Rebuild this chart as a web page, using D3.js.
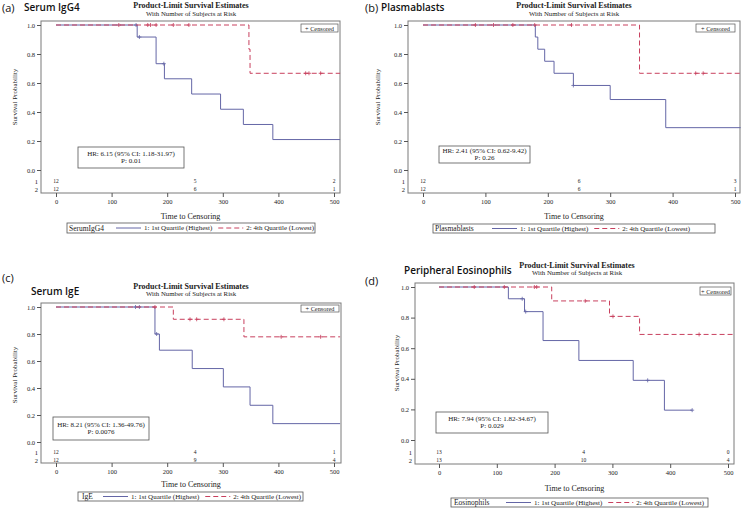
<!DOCTYPE html>
<html>
<head>
<meta charset="utf-8">
<script src="https://cdn.jsdelivr.net/npm/d3@7"></script>
<style>
  body { margin: 0; background: #fff; }
  svg { display: block; }
  .serif { font-family: "Liberation Serif", "Times New Roman", serif; fill: #222; }
  .tag { font-family: "Open Sans", "Noto Sans", sans-serif; font-weight: 600; fill: #111; }
</style>
</head>
<body>
<div class="km-plots"></div>
<script>
// shared axis values
const timeTicks = [0, 100, 200, 300, 400, 500];
const probTicks = [0, 0.2, 0.4, 0.6, 0.8, 1.0];
const riskTimes = [0, 250, 500];
const groupLabels = ['1: 1st Quartile (Highest)', '2: 4th Quartile (Lowest)'];

// (a) Serum IgG4  -- steps are [time, survival]
const iggQ1Steps = [[0, 1], [146, 0.917], [180, 0.733], [195, 0.629], [244, 0.524], [296, 0.419], [337, 0.314], [390, 0.21]];
const iggQ1Censor = [144, 150, 194];
const iggQ4Steps = [[0, 1], [347, 0.833], [349, 0.667]];
const iggQ4Censor = [113, 165, 170, 180, 211, 239, 449, 455, 476];
const iggEnd = [511, 511];
const iggRisk = [[12, 5, 2], [12, 6, 1]];

// (b) Plasmablasts
const plasQ1Steps = [[0, 1], [180, 0.917], [184, 0.833], [195, 0.75], [210, 0.667], [241, 0.583], [300, 0.486], [389, 0.292]];
const plasQ1Censor = [241];
const plasQ4Steps = [[0, 1], [347, 0.667]];
const plasQ4Censor = [84, 113, 144, 179, 238, 437, 449];
const plasEnd = [509, 509];
const plasRisk = [[12, 6, 3], [12, 6, 1]];

// (c) Serum IgE
const igeQ1Steps = [[0, 1], [178, 0.8], [186, 0.68], [245, 0.544], [301, 0.408], [349, 0.272], [390, 0.136]];
const igeQ1Censor = [143, 150, 181];
const igeQ4Steps = [[0, 1], [211, 0.909], [338, 0.779]];
const igeQ4Censor = [178, 241, 253, 302, 405, 476];
const igeEnd = [511, 511];
const igeRisk = [[12, 4, 1], [12, 9, 4]];

// (d) Peripheral Eosinophils
const eosQ1Steps = [[0, 1], [120, 0.923], [148, 0.839], [180, 0.65], [242, 0.52], [336, 0.39], [390, 0.195]];
const eosQ1Censor = [144, 150, 361, 438];
const eosQ4Steps = [[0, 1], [195, 0.909], [295, 0.808], [347, 0.69]];
const eosQ4Censor = [61, 113, 165, 169, 253, 301, 450];
const eosEnd = [438, 510];
const eosRisk = [[13, 4, 0], [13, 10, 4]];

const blue = '#6466a6';
const red = '#c8405e';
const frameColor = '#7a7a7a';

const panels = [
	{tag: '(a)', name: 'Serum IgG4', legendTitle: 'SerumIgG4',
	 hr: 'HR: 6.15 (95% CI: 1.18-31.97)', p: 'P: 0.01',
	 q1: iggQ1Steps, c1: iggQ1Censor, q4: iggQ4Steps, c4: iggQ4Censor, end: iggEnd, risk: iggRisk,
	 left: 41, right: 340, top: 21, bottom: 193, x0: 56, x500: 334, y0: 170, y1: 25,
	 riskY: [181, 189], axisTitleY: 216, titleX: 191, titleY: 8, subY: 16,
	 leg: [67, 315, 223, 233, 69, 116], hrBox: [78, 184, 147, 168], cens: [301, 338, 24, 32],
	 ylab: [15, 97], tagPos: [2, 7], namePos: [24, 7]},
	{tag: '(b)', name: 'Plasmablasts', legendTitle: 'Plasmablasts',
	 hr: 'HR: 2.41 (95% CI: 0.62-9.42)', p: 'P: 0.26',
	 q1: plasQ1Steps, c1: plasQ1Censor, q4: plasQ4Steps, c4: plasQ4Censor, end: plasEnd, risk: plasRisk,
	 left: 408, right: 740, top: 21, bottom: 193, x0: 423, x500: 735, y0: 170, y1: 25,
	 riskY: [181, 189], axisTitleY: 216, titleX: 574, titleY: 8, subY: 16,
	 leg: [433, 715, 224, 233, 435, 492], hrBox: [439, 530, 146, 163], cens: [696, 735, 24, 32],
	 ylab: [378, 97], tagPos: [365, 7], namePos: [381, 7]},
	{tag: '(c)', name: 'Serum IgE', legendTitle: 'IgE',
	 hr: 'HR: 8.21 (95% CI: 1.36-49.76)', p: 'P: 0.0076',
	 q1: igeQ1Steps, c1: igeQ1Censor, q4: igeQ4Steps, c4: igeQ4Censor, end: igeEnd, risk: igeRisk,
	 left: 41, right: 341, top: 303, bottom: 463, x0: 56, x500: 334, y0: 442, y1: 307,
	 riskY: [452, 460], axisTitleY: 484, titleX: 191, titleY: 289, subY: 296,
	 leg: [78, 303, 492, 501, 82, 103], hrBox: [53, 149, 417, 440], cens: [301, 339, 305, 312],
	 ylab: [15, 375], tagPos: [2, 277], namePos: [31, 291]},
	{tag: '(d)', name: 'Peripheral Eosinophils', legendTitle: 'Eosinophils',
	 hr: 'HR: 7.94 (95% CI: 1.82-34.67)', p: 'P: 0.029',
	 q1: eosQ1Steps, c1: eosQ1Censor, q4: eosQ4Steps, c4: eosQ4Censor, end: eosEnd, risk: eosRisk,
	 left: 415, right: 734, top: 283, bottom: 464, x0: 439, x500: 728, y0: 440, y1: 287,
	 riskY: [452, 460], axisTitleY: 488, titleX: 577, titleY: 268, subY: 275,
	 leg: [451, 708, 498, 507, 454, 506], hrBox: [436, 548, 412, 433], cens: [700, 731, 287, 295],
	 ylab: [397, 363], tagPos: [365, 280], namePos: [404, 270]}
];

const svg = d3.select('.km-plots')
	.append('svg')
	.attr('width', 743)
	.attr('height', 510);

panels.forEach(p => drawPanel(p));

function survivalAt(steps, t) {
	let s = steps[0][1];
	steps.forEach(d => { if (d[0] <= t) s = d[1]; });
	return s;
}

function drawPanel(p) {
	const g = svg.append('g');
	const x = d3.scaleLinear().domain([0, 500]).range([p.x0, p.x500]);
	const y = d3.scaleLinear().domain([0, 1]).range([p.y0, p.y1]);

	// panel tag and name
	g.append('text').attr('class', 'tag').attr('x', p.tagPos[0]).attr('y', p.tagPos[1])
		.attr('dominant-baseline', 'central').attr('font-size', '11px').style('font-weight', 400).text(p.tag);
	g.append('text').attr('class', 'tag').attr('x', p.namePos[0]).attr('y', p.namePos[1])
		.attr('dominant-baseline', 'central').attr('font-size', '10px').text(p.name);

	// titles
	g.append('text').attr('class', 'serif').attr('x', p.titleX).attr('y', p.titleY)
		.attr('text-anchor', 'middle').attr('font-size', '8px').attr('font-weight', 'bold')
		.text('Product-Limit Survival Estimates');
	g.append('text').attr('class', 'serif').attr('x', p.titleX).attr('y', p.subY)
		.attr('text-anchor', 'middle').attr('font-size', '6.8px')
		.text('With Number of Subjects at Risk');

	// frame
	g.append('rect')
		.attr('x', p.left).attr('y', p.top)
		.attr('width', p.right - p.left).attr('height', p.bottom - p.top)
		.attr('fill', 'none').attr('stroke', frameColor).attr('stroke-width', 1);

	// axes
	const yAxis = g.append('g')
		.attr('transform', 'translate(' + p.left + ',0)')
		.call(d3.axisLeft(y).tickValues(probTicks).tickFormat(d3.format('.1f')).tickSize(4).tickPadding(2));
	const xAxis = g.append('g')
		.attr('transform', 'translate(0,' + p.bottom + ')')
		.call(d3.axisBottom(x).tickValues(timeTicks).tickFormat(d3.format('d')).tickSize(4).tickPadding(2));
	[yAxis, xAxis].forEach(a => {
		a.select('.domain').remove();
		a.selectAll('line').attr('stroke', '#555');
		a.selectAll('text').attr('class', 'serif').attr('font-size', '6.5px');
	});

	g.append('text').attr('class', 'serif')
		.attr('x', (p.left + p.right) / 2).attr('y', p.axisTitleY)
		.attr('text-anchor', 'middle').attr('dominant-baseline', 'central').attr('font-size', '8px')
		.text('Time to Censoring');
	g.append('text').attr('class', 'serif')
		.attr('transform', 'translate(' + p.ylab[0] + ',' + p.ylab[1] + ') rotate(-90)')
		.attr('text-anchor', 'middle').attr('dominant-baseline', 'central').attr('font-size', '7px')
		.text('Survival Probability');

	// number at risk
	p.risk.forEach((row, i) => {
		g.append('text').attr('class', 'serif')
			.attr('x', p.left - 3).attr('y', p.riskY[i])
			.attr('text-anchor', 'end').attr('dominant-baseline', 'central').attr('font-size', '6.5px')
			.text(i + 1);
		g.selectAll('.risk' + i)
			.data(row)
			.enter()
			.append('text')
			.attr('class', 'serif')
			.attr('x', (d, j) => x(riskTimes[j]))
			.attr('y', p.riskY[i])
			.attr('text-anchor', 'middle').attr('dominant-baseline', 'central').attr('font-size', '5.5px')
			.text(d => d);
	});

	// survival curves
	const line = d3.line().x(d => x(d[0])).y(d => y(d[1])).curve(d3.curveStepAfter);
	const groups = [
		{steps: p.q1, cens: p.c1, end: p.end[0], color: blue, dash: null},
		{steps: p.q4, cens: p.c4, end: p.end[1], color: red, dash: '5,3'}
	];
	groups.forEach(gr => {
		const pts = gr.steps.concat([[gr.end, gr.steps[gr.steps.length - 1][1]]]);
		g.append('path')
			.attr('d', line(pts))
			.attr('fill', 'none')
			.attr('stroke', gr.color)
			.attr('stroke-width', 1)
			.attr('stroke-dasharray', gr.dash);
		g.selectAll('.cens')
			.data(gr.cens)
			.enter()
			.append('path')
			.attr('d', d => {
				const cx = x(d), cy = y(survivalAt(gr.steps, d));
				return 'M' + (cx - 2) + ',' + cy + 'H' + (cx + 2) + 'M' + cx + ',' + (cy - 2) + 'V' + (cy + 2);
			})
			.attr('stroke', gr.color)
			.attr('stroke-width', 0.8);
	});

	// censored key
	const c = p.cens;
	g.append('rect').attr('x', c[0]).attr('y', c[2]).attr('width', c[1] - c[0]).attr('height', c[3] - c[2])
		.attr('fill', '#fff').attr('stroke', '#555').attr('stroke-width', 0.7);
	g.append('text').attr('class', 'serif')
		.attr('x', (c[0] + c[1]) / 2).attr('y', (c[2] + c[3]) / 2)
		.attr('text-anchor', 'middle').attr('dominant-baseline', 'central').attr('font-size', '6.3px')
		.text('+ Censored');

	// HR box
	const h = p.hrBox;
	g.append('rect').attr('x', h[0]).attr('y', h[2]).attr('width', h[1] - h[0]).attr('height', h[3] - h[2])
		.attr('fill', '#fff').attr('stroke', '#555').attr('stroke-width', 0.8);
	const hm = (h[2] + h[3]) / 2;
	g.append('text').attr('class', 'serif')
		.attr('x', (h[0] + h[1]) / 2).attr('y', hm - 3.8)
		.attr('text-anchor', 'middle').attr('dominant-baseline', 'central').attr('font-size', '7px')
		.text(p.hr);
	g.append('text').attr('class', 'serif')
		.attr('x', (h[0] + h[1]) / 2).attr('y', hm + 3.8)
		.attr('text-anchor', 'middle').attr('dominant-baseline', 'central').attr('font-size', '7px')
		.text(p.p);

	// bottom legend
	const l = p.leg;
	const ly = (l[2] + l[3]) / 2;
	g.append('rect').attr('x', l[0]).attr('y', l[2]).attr('width', l[1] - l[0]).attr('height', l[3] - l[2])
		.attr('fill', '#fff').attr('stroke', '#555').attr('stroke-width', 0.8);
	g.append('text').attr('class', 'serif').attr('x', l[4]).attr('y', ly)
		.attr('dominant-baseline', 'central').attr('font-size', '7.5px').text(p.legendTitle);
	let lx = l[5];
	groupLabels.forEach((lab, i) => {
		g.append('line').attr('x1', lx).attr('x2', lx + 25).attr('y1', ly).attr('y2', ly)
			.attr('stroke', groups[i].color).attr('stroke-width', 1)
			.attr('stroke-dasharray', groups[i].dash);
		const t = g.append('text').attr('class', 'serif').attr('x', lx + 28).attr('y', ly)
			.attr('dominant-baseline', 'central').attr('font-size', '7px').text(lab);
		lx = lx + 28 + t.node().getComputedTextLength() + 6;
	});
}
</script>
</body>
</html>
